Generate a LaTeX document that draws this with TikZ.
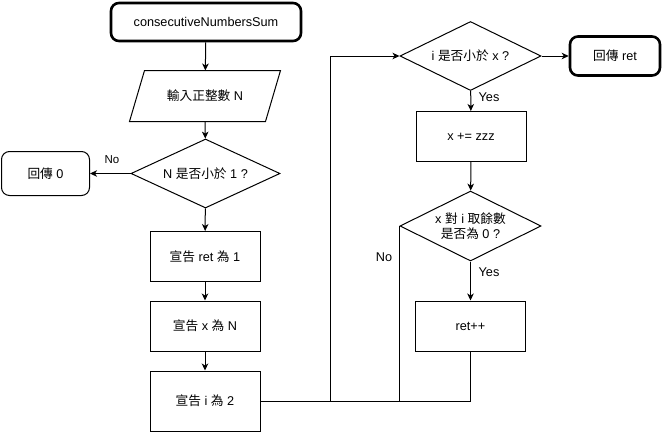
\documentclass[tikz,border=0pt]{standalone}
\usepackage{fontspec}
\setmainfont{Liberation Sans}
\newfontfamily\cjk{Noto Sans CJK TC}
\usetikzlibrary{shapes.geometric,arrows.meta}
\tikzset{
  base/.style={font=\fontsize{12.7}{15.5}\selectfont, inner sep=0pt, align=center, line width=1pt},
  procbox/.style={base, draw, minimum width=110pt, minimum height=50pt},
  termbox/.style={base, draw, rounded corners=8pt, line width=2.6pt},
  retbox/.style={base, draw, rounded corners=8pt},
  decbox/.style={base, draw, diamond, aspect=2},
  lbl/.style={font=\fontsize{12.7}{14}\selectfont, inner sep=0pt},
  arr/.style={line width=1pt, -{Stealth[length=7pt,width=6.5pt,inset=2pt]}},
  conn/.style={line width=1pt},
}
\begin{document}
\begin{tikzpicture}[x=1pt,y=-1pt]
\useasboundingbox (0,0) rectangle (662,432);
% left column
\node[termbox, minimum width=190pt, minimum height=38pt] (start) at (206,22) {consecutiveNumbersSum};
\node[base, minimum width=150pt, minimum height=50pt] (input) at (205,96) {{\cjk 輸入正整數} N};
\draw[line width=1pt] ([xshift=15pt]input.north west) -- (input.north east)
  -- ([xshift=-15pt]input.south east) -- (input.south west) -- cycle;
\node[decbox, minimum width=149pt, minimum height=69pt] (d1) at (205.5,173.5) {N {\cjk 是否小於} 1 ?};
\node[retbox, minimum width=88pt, minimum height=44pt] (r0) at (45.5,173.5) {{\cjk 回傳} 0};
\node[procbox] (b1) at (205,256.5) {{\cjk 宣告} ret {\cjk 為} 1};
\node[procbox] (b2) at (205,326) {{\cjk 宣告} x {\cjk 為} N};
\node[procbox, minimum height=60pt] (b3) at (205,401) {{\cjk 宣告} i {\cjk 為} 2};
% right column
\node[decbox, minimum width=141pt, minimum height=69pt] (d2) at (470.5,56) {i {\cjk 是否小於} x ?};
\node[termbox, minimum width=90pt, minimum height=39pt] (rr) at (615,56) {{\cjk 回傳} ret};
\node[procbox] (xb) at (471,136.5) {x += zzz};
\node[decbox, minimum width=141pt, minimum height=70pt] (d3) at (470.5,226) {x {\cjk 對} i {\cjk 取餘數}\\{\cjk 是否為} 0 ?};
\node[procbox] (rp) at (470.5,326) {ret++};
\coordinate (loopx) at (330,0);
% labels
\node[lbl, font=\fontsize{11.5}{13}\selectfont] (no1) at (112,160) {No};
\node[lbl] (yes1) at (489,97) {Yes};
\node[lbl] (yes2) at (489,272) {Yes};
\node[lbl] (no2) at (384,257) {No};
% connectors
\draw[arr] (start) -- (input);
\draw[arr] (input) -- (d1);
\draw[arr] (d1) -- (b1);
\draw[arr] (d1.west) -- (r0.east);
\draw[arr] (b1) -- (b2);
\draw[arr] (b2) -- (b3);
\draw[arr] (b3.east) -- (b3.east -| loopx) |- (d2.west);
\draw[conn] (d3.west) -- (d3.west |- b3.east);
\draw[conn] (rp.south) -- (rp.south |- b3.east) -- (b3.east -| loopx);
\draw[arr] (d2.east) -- (rr.west);
\draw[arr] (d2) -- (xb);
\draw[arr] (xb) -- (d3);
\draw[arr] (d3) -- (rp);
\end{tikzpicture}
\end{document}
